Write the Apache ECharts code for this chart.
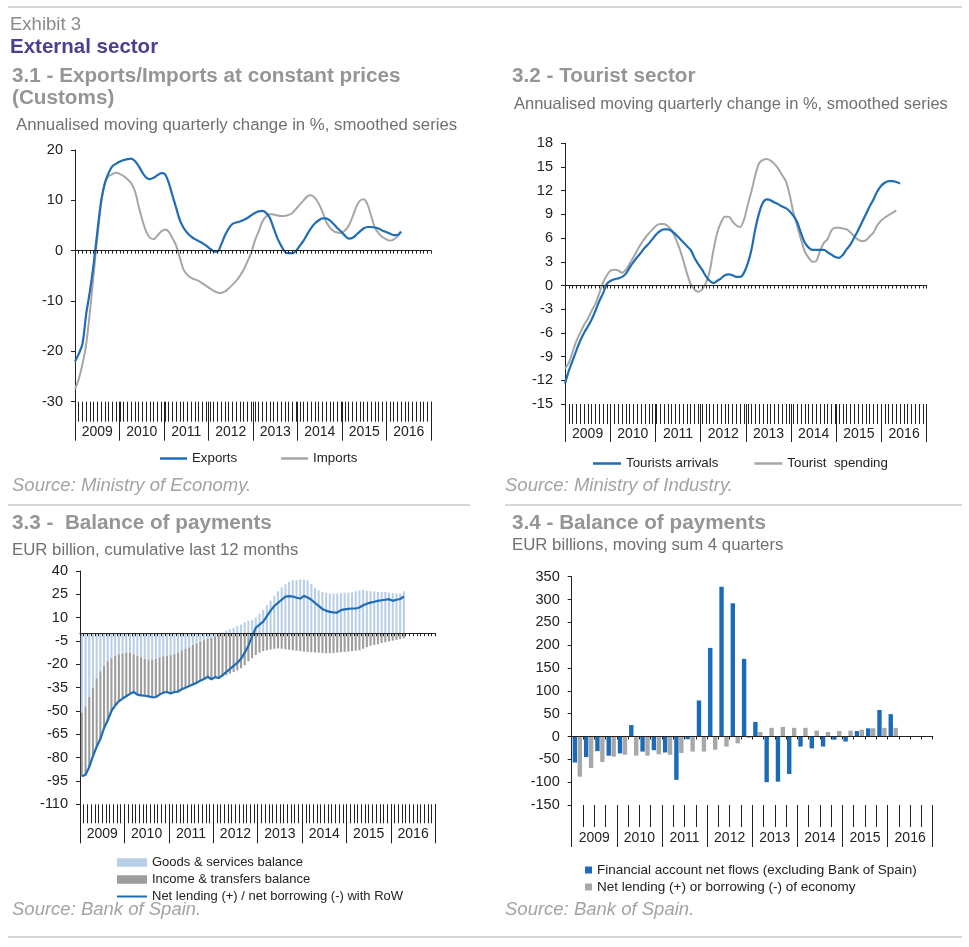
<!DOCTYPE html>
<html><head><meta charset="utf-8">
<script src="https://cdn.jsdelivr.net/npm/echarts@6/dist/echarts.min.js"></script>
<style>html,body{margin:0;padding:0;background:#fff}#c{width:969px;height:947px}</style>
</head><body><div id="c"></div><script>
const FONT = "'Liberation Sans', Arial, Helvetica, sans-serif";

// ---- categories ----
const years = ['2009','2010','2011','2012','2013','2014','2015','2016'];
const months = [];
years.forEach(y => { for (let m = 1; m <= 12; m++) months.push(y + '-' + (m < 10 ? '0' : '') + m); });
const quarters = [];
years.forEach(y => { for (let q = 1; q <= 4; q++) quarters.push(y + 'Q' + q); });

// ---- 3.1 Exports / Imports (monthly, Jan 2009 -> Apr 2016) ----
const exportsSeries = [-22,-20.5,-18.5,-12.5,-8,-2.5,4,10,13.5,15.5,
  16.8,17.3,17.7,18,18.2,18.3,17.8,16.8,15.5,14.5,
  14.2,14.5,15,15.4,15.2,13.5,11,8.5,6,4.5,
  3.5,2.8,2.3,1.9,1.5,1,0.4,-0.1,-0.2,1.2,
  3,4.4,5.3,5.6,5.8,6.1,6.5,7,7.5,7.8,
  7.9,7.5,6.5,4.5,2.5,1,-0.2,-0.5,-0.5,0,
  1,2,3.3,4.5,5.4,6,6.4,6.4,6,5.3,
  4.5,3.8,3,2.4,2.5,3.1,3.8,4.4,4.7,4.7,
  4.6,4.4,4,3.7,3.4,3.1,3.1,3.8];
const importsSeries = [-27.5,-25.5,-22.5,-18.5,-12,-4.5,3,9.5,13.5,14.8,
  15.2,15.5,15.2,14.8,14.2,13.4,11.8,8.8,6,3.8,
  2.6,2.3,3,3.8,4.2,3.8,2.5,1,-1.5,-3.8,
  -4.8,-5.4,-5.7,-6,-6.5,-7,-7.5,-8,-8.3,-8.4,
  -8.1,-7.5,-6.8,-6,-5,-3.8,-2.2,-0.5,2,3.8,
  5.8,6.8,7.3,7.2,7,6.9,6.9,7.1,7.5,8.3,
  9.2,10,10.8,11,10.5,9.4,7.8,5.8,4.6,3.9,
  3.6,3.5,4,4.9,6.6,8.6,9.9,10.2,9.3,7,
  4.6,3.5,2.7,2.3,2,2.2,2.8,3.8];

// ---- 3.2 Tourist sector (monthly) ----
const arrivalsSeries = [-12.4,-10.8,-9.5,-8.2,-7,-6,-5.2,-4.3,-3.2,-2,
  -1,0.2,0.6,0.8,0.9,1.1,1.5,2.3,3,3.6,
  4.2,4.8,5.3,5.9,6.5,6.9,7.1,7.1,6.9,6.5,
  6,5.5,5,4.5,3.5,2.7,2,1.2,0.6,0.3,
  0.6,0.9,1.3,1.4,1.3,1.1,1.1,1.6,2.8,4.6,
  7.2,9.2,10.5,10.9,10.8,10.5,10.3,10,9.8,9.4,
  8.8,8,6.6,5.4,4.8,4.5,4.5,4.5,4.5,4.2,
  3.9,3.6,3.5,3.9,4.6,5.2,6.1,7,8,9,
  10,10.9,11.9,12.6,13,13.2,13.2,13.1,12.9];
const spendingSeries = [-10.5,-9.8,-8.4,-7,-6,-5,-4.2,-3.2,-2.3,-1,
  0.4,1.3,1.9,2,1.9,1.6,2,2.8,3.6,4.5,
  5.3,6,6.6,7.1,7.6,7.8,7.8,7.5,7,6,
  4.8,3.3,1.6,0.2,-0.5,-0.8,-0.5,0.3,1.8,4.5,
  6.7,8,8.7,8.7,8.1,7.6,7.4,8.3,10.2,12,
  14,15.5,15.9,16,15.8,15.4,14.8,14,13.2,11.5,
  9.2,7.5,5.8,4.3,3.5,3,3.1,4.4,5.4,5.9,
  7,7.3,7.3,7.2,7.1,6.7,6.2,5.8,5.6,5.7,
  6.2,6.7,7.6,8.2,8.6,8.9,9.2,9.5];

// ---- 3.3 Balance of payments (monthly, cumulative 12m) ----
const goodsServices = [-51,-47,-41,-35,-29,-24.5,-21,-18,-16,-14.5,
  -13.5,-13,-12.5,-12.5,-13.5,-14.5,-15.5,-16.5,-17,-17,
  -16.5,-15.5,-15,-14.5,-14,-13.5,-12.5,-11,-10,-9,
  -7.5,-6.5,-5.5,-4.5,-3.5,-3,-2,-1,0.5,1.5,
  2.5,3.5,4.5,5.5,7,8,8.5,10,12.5,15,
  18,21,24,27,29.5,31.5,33,34,34,34.5,
  34.5,34,31.5,29,27.5,26.5,26,25.5,25.5,25.5,
  25.8,26,26,26.2,27,27.5,27.8,27.3,27,26.8,
  26.5,26.5,26.5,26.2,25.8,25.5,25.5,27];
const incomeTransfers = [-41,-44,-45,-44,-44,-43.5,-40,-38,-34,-32,
  -30.3,-29,-28,-26.5,-24.3,-25,-24.5,-23.7,-23.6,-24.2,
  -24.5,-24,-23.2,-23.3,-24.8,-24.3,-25,-25,-25,-25,
  -25.5,-25.3,-25,-25,-24.5,-26.6,-26.2,-27.8,-28,-27,
  -26,-25,-24,-22.5,-20.5,-18,-16,-14,-12.5,-11.5,
  -11,-10.5,-10,-9.8,-10,-10.3,-10.6,-11,-11.2,-11.5,
  -11.8,-12,-12.2,-12.4,-12.5,-12.7,-12.9,-12.9,-12.7,-12.4,
  -12.2,-12,-11.8,-11.5,-11.2,-11,-10,-9,-8,-7.5,
  -7,-6.3,-5.8,-5.3,-4.8,-4.3,-3.8,-3.3];
const netLending = [-92,-91,-86,-79,-73,-68,-61,-56,-50,-46.5,
  -43.8,-42,-40.5,-39,-37.8,-39.5,-40,-40.2,-40.6,-41.2,
  -41,-39.5,-38.2,-37.8,-38.8,-37.8,-37.5,-36,-35,-34,
  -33,-31.8,-30.5,-29.5,-28,-29.6,-28.2,-28.8,-27,-25,
  -23,-21,-19,-16.5,-12.5,-8,-2,3.5,5.5,7.5,
  11,14.5,17.5,19.5,21.5,23.5,23.8,23.6,22.8,22.3,
  24,23,21.5,19.5,17.6,15.5,14.5,13.7,13.4,13.3,
  14.8,15.3,15.6,15.9,15.9,16.5,18,19,19.7,20.2,
  20.8,21.2,21.5,21.9,20.8,21.5,22,23.6];

// ---- 3.4 Balance of payments (quarterly, moving sum 4 quarters) ----
const financialFlows = [-57,-45,-32,-42,-37,25,-33,-30,-35,-95,-6,79,194,328,292,170,32,-100,-99,-82,-22,-26,-22,-7,-11,12,18,58,49];
const netLendingQ = [-88,-69,-56,-44,-40,-42,-42,-39,-40,-36,-33,-33,-29,-22,-15,-3,10,19,21,19,19,13,10,12,13,15,18,19,19];

// ---- axis label values ----
const ticks31 = {min:-30, max:20, interval:10};
const ticks32 = {min:-15, max:18, interval:3};
const ticks33Labels = [-110,-95,-80,-65,-50,-35,-20,-5,10,25,40];
const ticks34 = {min:-150, max:350, interval:50};

const AX = '#222';
const BLUE = '#1f6db6';
const GRAY = '#a6a6a6';

function xAxesFor(g, cats, bg, combLen, sepLen, labelMargin) {
  return [
    { type:'category', gridIndex:g, data:cats, boundaryGap:bg, position:'bottom',
      axisLine:{show:false, onZero:false},
      axisTick:{show:true, interval:0, length:combLen, lineStyle:{color:AX, width:1}},
      axisLabel:{show:false}, splitLine:{show:false} },
    { type:'category', gridIndex:g, data:years, boundaryGap:true, position:'bottom',
      axisLine:{show:false, onZero:false},
      axisTick:{show:true, interval:0, length:sepLen, lineStyle:{color:AX, width:1}},
      axisLabel:{show:true, interval:0, margin:labelMargin, fontSize:14, color:AX, fontFamily:FONT},
      splitLine:{show:false} },
    { type:'category', gridIndex:g, data:cats, boundaryGap:bg, position:'bottom', z:10,
      axisLine:{show:true, onZero:true, lineStyle:{color:AX, width:1.2}},
      axisTick:{show:true, interval:0, length:3, lineStyle:{color:AX, width:1}},
      axisLabel:{show:false}, splitLine:{show:false} }
  ];
}
function yAxisFor(g, spec) {
  const a = { type:'value', gridIndex:g, min:spec.min, max:spec.max,
    axisLine:{show:true, onZero:false, lineStyle:{color:AX, width:1}},
    axisTick:{show:true, length:4, lineStyle:{color:AX}},
    axisLabel:{fontSize:14.5, color:AX, margin:12, fontFamily:FONT},
    splitLine:{show:false} };
  if (spec.interval) a.interval = spec.interval;
  return a;
}
const y33 = yAxisFor(2, {min:-110, max:40, interval:5});
y33.axisLabel.customValues = ticks33Labels;
y33.axisTick.customValues = ticks33Labels;

// ---- texts & rules ----
const graphics = [];
function txt(x, y, s, size, color, weight, style) {
  graphics.push({type:'text', x:x, y:y, silent:true, z:100,
    style:{text:s, fontSize:size, fontFamily:FONT, fontWeight:weight||'normal', fontStyle:style||'normal', fill:color, verticalAlign:'middle'}});
}
function hline(x1, x2, y) {
  graphics.push({type:'line', silent:true, shape:{x1:x1, y1:y, x2:x2, y2:y}, style:{stroke:'#c9c9c9', lineWidth:1.5}});
}
hline(8, 962, 7);
hline(8, 470, 505);
hline(505, 962, 505);
hline(8, 962, 937);
txt(10, 25, 'Exhibit 3', 18.5, '#8a8a8a');
txt(10, 47, 'External sector', 20.5, '#4b3f8f', 'bold');
txt(12, 76, '3.1 - Exports/Imports at constant prices', 20.7, '#959595', 'bold');
txt(12, 98, '(Customs)', 20.7, '#959595', 'bold');
txt(16, 125, 'Annualised moving quarterly change in %, smoothed series', 16.8, '#707070');
txt(512, 76, '3.2 - Tourist sector', 20.7, '#959595', 'bold');
txt(514, 104, 'Annualised moving quarterly change in %, smoothed series', 16.5, '#707070');
txt(12, 486, 'Source: Ministry of Economy.', 18.5, '#a3a3a3', 'normal', 'italic');
txt(505, 486, 'Source: Ministry of Industry.', 18.5, '#a3a3a3', 'normal', 'italic');
txt(12, 523, '3.3 -  Balance of payments', 20.7, '#959595', 'bold');
txt(12, 550, 'EUR billion, cumulative last 12 months', 16.8, '#707070');
txt(512, 523, '3.4 - Balance of payments', 20.7, '#959595', 'bold');
txt(512, 545, 'EUR billions, moving sum 4 quarters', 16.8, '#707070');
txt(12, 910, 'Source: Bank of Spain.', 18.5, '#a3a3a3', 'normal', 'italic');
txt(505, 910, 'Source: Bank of Spain.', 18.5, '#a3a3a3', 'normal', 'italic');

const legText = {fontSize:13.3, color:AX, fontFamily:FONT};

const option = {
  animation:false,
  backgroundColor:'#fff',
  grid:[
    {left:75, top:150, width:356, height:251.7, outerBoundsMode:'none'},
    {left:565, top:143.3, width:361.7, height:260.7, outerBoundsMode:'none'},
    {left:80, top:571, width:355.3, height:233.3, outerBoundsMode:'none'},
    {left:571.7, top:576.7, width:361, height:228.3, outerBoundsMode:'none'}
  ],
  xAxis:[].concat(
    xAxesFor(0, months, false, 20, 39, 23),
    xAxesFor(1, months, false, 20, 38, 23),
    xAxesFor(2, months, true, 19, 39, 23),
    xAxesFor(3, quarters, true, 22, 42, 26)
  ),
  yAxis:[ yAxisFor(0, ticks31), yAxisFor(1, ticks32), y33, yAxisFor(3, ticks34) ],
  legend:[
    {data:['Exports','Imports'], left:155, top:447, icon:'rect', itemWidth:27, itemHeight:2.5, itemGap:44, textStyle:legText, selectedMode:false},
    {data:['Tourists arrivals','Tourist  spending'], left:588, top:452, icon:'rect', itemWidth:28, itemHeight:2.5, itemGap:36, textStyle:legText, selectedMode:false},
    {data:['Goods & services balance','Income & transfers balance'], orient:'vertical', left:112, top:851, icon:'rect', itemWidth:30, itemHeight:8.5, itemGap:4, textStyle:{fontSize:13, color:AX, fontFamily:FONT}, selectedMode:false},
    {data:['Net lending (+) / net borrowing (-) with RoW'], left:112, top:885, icon:'rect', itemWidth:30, itemHeight:2, textStyle:{fontSize:13, color:AX, fontFamily:FONT}, selectedMode:false},
    {data:['Financial account net flows (excluding Bank of Spain)','Net lending (+) or borrowing (-) of economy'], orient:'vertical', left:580, top:858, icon:'rect', itemWidth:7, itemHeight:7, itemGap:3, textStyle:{fontSize:13.5, color:AX, fontFamily:FONT}, selectedMode:false}
  ],
  series:[
    {name:'Imports', type:'line', xAxisIndex:0, yAxisIndex:0, data:importsSeries, smooth:0.3, symbol:'none', lineStyle:{color:GRAY, width:2}, itemStyle:{color:GRAY}},
    {name:'Exports', type:'line', xAxisIndex:0, yAxisIndex:0, data:exportsSeries, smooth:0.3, symbol:'none', lineStyle:{color:BLUE, width:2.2}, itemStyle:{color:BLUE}},
    {name:'Tourist  spending', type:'line', xAxisIndex:3, yAxisIndex:1, data:spendingSeries, smooth:0.3, symbol:'none', lineStyle:{color:GRAY, width:2}, itemStyle:{color:GRAY}},
    {name:'Tourists arrivals', type:'line', xAxisIndex:3, yAxisIndex:1, data:arrivalsSeries, smooth:0.3, symbol:'none', lineStyle:{color:BLUE, width:2.2}, itemStyle:{color:BLUE}},
    {name:'Goods & services balance', type:'bar', xAxisIndex:6, yAxisIndex:2, stack:'bop', data:goodsServices, barWidth:2.1, itemStyle:{color:'#b9cfe9'}},
    {name:'Income & transfers balance', type:'bar', xAxisIndex:6, yAxisIndex:2, stack:'bop', data:incomeTransfers, barWidth:2.1, itemStyle:{color:'#9d9d9d'}},
    {name:'Net lending (+) / net borrowing (-) with RoW', type:'line', xAxisIndex:6, yAxisIndex:2, data:netLending, symbol:'none', z:5, lineStyle:{color:BLUE, width:2.2}, itemStyle:{color:BLUE}},
    {name:'Financial account net flows (excluding Bank of Spain)', type:'bar', xAxisIndex:9, yAxisIndex:3, data:financialFlows, barWidth:4.4, barGap:'12%', itemStyle:{color:'#1b6bb8'}},
    {name:'Net lending (+) or borrowing (-) of economy', type:'bar', xAxisIndex:9, yAxisIndex:3, data:netLendingQ, barWidth:4.4, barGap:'12%', itemStyle:{color:'#a8a8a8'}}
  ],
  graphic:{elements:graphics}
};
const chart = echarts.init(document.getElementById('c'), null, {renderer:'canvas'});
chart.setOption(option);
</script></body></html>
